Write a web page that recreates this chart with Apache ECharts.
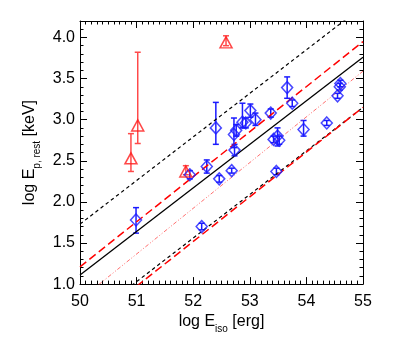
<!DOCTYPE html>
<html>
<head>
<meta charset="utf-8">
<script src="https://cdn.jsdelivr.net/npm/echarts@6/dist/echarts.min.js"></script>
<style>
  html, body { margin: 0; padding: 0; background: #fff; }
  #chart { width: 415px; height: 339px; }
</style>
</head>
<body>
<div id="chart"></div>
<script>
// blue diamonds: log Eiso, log Ep, lower / upper error
const blueX  = [50.99, 51.94, 52.15, 52.24, 52.40, 52.46, 52.68, 52.73, 52.72, 52.76, 52.87, 52.93, 53.01, 53.10, 53.37, 53.42, 53.49, 53.52, 53.47, 53.66, 53.75, 53.95, 54.36, 54.55, 54.59, 54.60]
const blueY  = [1.78, 2.33, 1.70, 2.43, 2.90, 2.28, 2.38, 2.63, 2.82, 2.87, 2.97, 2.96, 3.11, 3.00, 3.08, 2.76, 2.80, 2.75, 2.37, 3.39, 3.20, 2.88, 2.96, 3.29, 3.40, 3.44]
const blueLo = [1.62, 2.28, 1.66, 2.35, 2.70, 2.24, 2.35, 2.56, 2.66, 2.80, 2.90, 2.90, 3.03, 2.93, 3.03, 2.72, 2.68, 2.70, 2.33, 3.26, 3.16, 2.80, 2.93, 3.26, 3.36, 3.40]
const blueHi = [1.93, 2.38, 1.74, 2.51, 3.21, 2.32, 2.41, 2.70, 3.02, 2.94, 3.20, 3.02, 3.19, 3.08, 3.13, 2.80, 2.90, 2.80, 2.41, 3.52, 3.24, 2.99, 2.99, 3.32, 3.44, 3.48]

// red triangles
const redX  = [50.90, 51.02, 51.87, 52.58]
const redY  = [2.53, 2.93, 2.37, 3.94]
const redLo = [2.37, 2.71, 2.33, 3.90]
const redHi = [2.83, 3.82, 2.44, 4.02]

// relation lines, endpoints at log Eiso = 50 and 55
const lineX = [50, 55]
const blackFit = [1.11, 3.76]
const blackUpper = [1.73, 4.38]
const blackLower = [0.50, 3.15]
const redFit = [1.21, 3.95]
const redLower = [0.43, 3.15]
const pinkFit = [0.81, 3.59]

const xTicks = [50, 51, 52, 53, 54, 55]
const yTicks = [1.0, 1.5, 2.0, 2.5, 3.0, 3.5, 4.0]

const chart = echarts.init(document.getElementById('chart'))
const font = 'Liberation Sans, Arial, sans-serif'

const pairs = (xs, ys) => xs.map((x, i) => [x, ys[i]])
const errData = (xs, lo, hi) => xs.map((x, i) => [x, lo[i], hi[i]])

const errorBar = (color) => (params, api) => {
  const top = api.coord([api.value(0), api.value(2)])
  const bot = api.coord([api.value(0), api.value(1)])
  const cap = 3
  const style = { stroke: color, lineWidth: 1.5 }
  return {
    type: 'group',
    children: [
      { type: 'line', shape: { x1: top[0], y1: top[1], x2: bot[0], y2: bot[1] }, style },
      { type: 'line', shape: { x1: top[0] - cap, y1: top[1], x2: top[0] + cap, y2: top[1] }, style },
      { type: 'line', shape: { x1: bot[0] - cap, y1: bot[1], x2: bot[0] + cap, y2: bot[1] }, style }
    ]
  }
}

const fitLine = (name, ys, color, width, dash) => ({
  name,
  type: 'line',
  data: pairs(lineX, ys),
  symbol: 'none',
  silent: true,
  clip: true,
  lineStyle: { color, width, type: dash }
})

const labelStyle = { color: '#000', fontSize: 16, fontFamily: font }

const xBase = {
  type: 'value',
  min: 50,
  max: 55,
  interval: 1,
  splitLine: { show: false },
  axisLine: { show: true, onZero: false, lineStyle: { color: '#000', width: 1 } },
  axisTick: { show: true, inside: true, length: 7, lineStyle: { color: '#000' } },
  minorTick: { show: true, splitNumber: 10, length: 3.5, lineStyle: { color: '#000' } }
}

const yMajor = {
  type: 'value',
  min: 1.0,
  max: 4.2,
  interval: 0.5,
  splitLine: { show: false },
  axisLine: { show: true, onZero: false, lineStyle: { color: '#000', width: 1 } },
  axisTick: { show: true, inside: true, length: 7, lineStyle: { color: '#000' } }
}

const yMinor = {
  type: 'value',
  min: 1.0,
  max: 4.2,
  interval: 0.1,
  splitLine: { show: false },
  axisLine: { show: false },
  axisLabel: { show: false },
  axisTick: { show: true, inside: true, length: 3.5, lineStyle: { color: '#000' } }
}

const nameRich = {
  a: { fontSize: 16, fontFamily: font, color: '#000', lineHeight: 19, verticalAlign: 'bottom' },
  s: { fontSize: 10, fontFamily: font, color: '#000', lineHeight: 19, verticalAlign: 'bottom', padding: [0, 0, -4, 0] }
}

chart.setOption({
  backgroundColor: '#fff',
  animation: false,
  grid: { left: 80, right: 52, top: 21, bottom: 43 },
  xAxis: [
    {
      ...xBase,
      position: 'bottom',
      axisLabel: { ...labelStyle, margin: 9, formatter: (v) => (xTicks.includes(v) ? String(v) : '') },
      name: '{a|log E}{s|iso}{a| [erg]}',
      nameLocation: 'middle',
      nameGap: 24,
      nameTextStyle: { rich: nameRich }
    },
    { ...xBase, position: 'top', axisLabel: { show: false } }
  ],
  yAxis: [
    {
      ...yMajor,
      position: 'left',
      axisLabel: {
        ...labelStyle,
        margin: 5,
        showMaxLabel: false,
        formatter: (v) => (yTicks.some((t) => Math.abs(t - v) < 1e-6) ? v.toFixed(1) : '')
      },
      name: '{a|log E}{s|p, rest}{a| [keV]}',
      nameLocation: 'middle',
      nameRotate: 90,
      nameGap: 36,
      nameTextStyle: { rich: nameRich }
    },
    { ...yMajor, position: 'right', axisLabel: { show: false } },
    { ...yMinor, position: 'left' },
    { ...yMinor, position: 'right' }
  ],
  series: [
    fitLine('upper', blackUpper, '#000', 1.2, [3.5, 3]),
    fitLine('lower', blackLower, '#000', 1.2, [3.5, 3]),
    fitLine('fit', blackFit, '#000', 1.3, 'solid'),
    fitLine('red fit', redFit, '#ff0000', 1.5, [8, 4]),
    fitLine('red lower', redLower, '#ff0000', 1.5, [8, 4]),
    fitLine('pink fit', pinkFit, '#ff7070', 1, [4, 2, 1, 2, 1, 2]),
    {
      name: 'blue err',
      type: 'custom',
      renderItem: errorBar('#1a1aff'),
      data: errData(blueX, blueLo, blueHi),
      encode: { x: 0, y: [1, 2] },
      z: 3
    },
    {
      name: 'red err',
      type: 'custom',
      renderItem: errorBar('#ff4a4a'),
      data: errData(redX, redLo, redHi),
      encode: { x: 0, y: [1, 2] },
      z: 3
    },
    {
      name: 'blue',
      type: 'scatter',
      data: pairs(blueX, blueY),
      symbol: 'diamond',
      symbolSize: [11, 12],
      itemStyle: { color: 'rgba(0,0,0,0)', borderColor: '#1a1aff', borderWidth: 1.5 },
      z: 4
    },
    {
      name: 'red',
      type: 'scatter',
      data: pairs(redX, redY),
      symbol: 'triangle',
      symbolSize: [12, 11],
      itemStyle: { color: 'rgba(0,0,0,0)', borderColor: '#ff1a1a', borderWidth: 1.5 },
      z: 4
    }
  ]
})
</script>
</body>
</html>
